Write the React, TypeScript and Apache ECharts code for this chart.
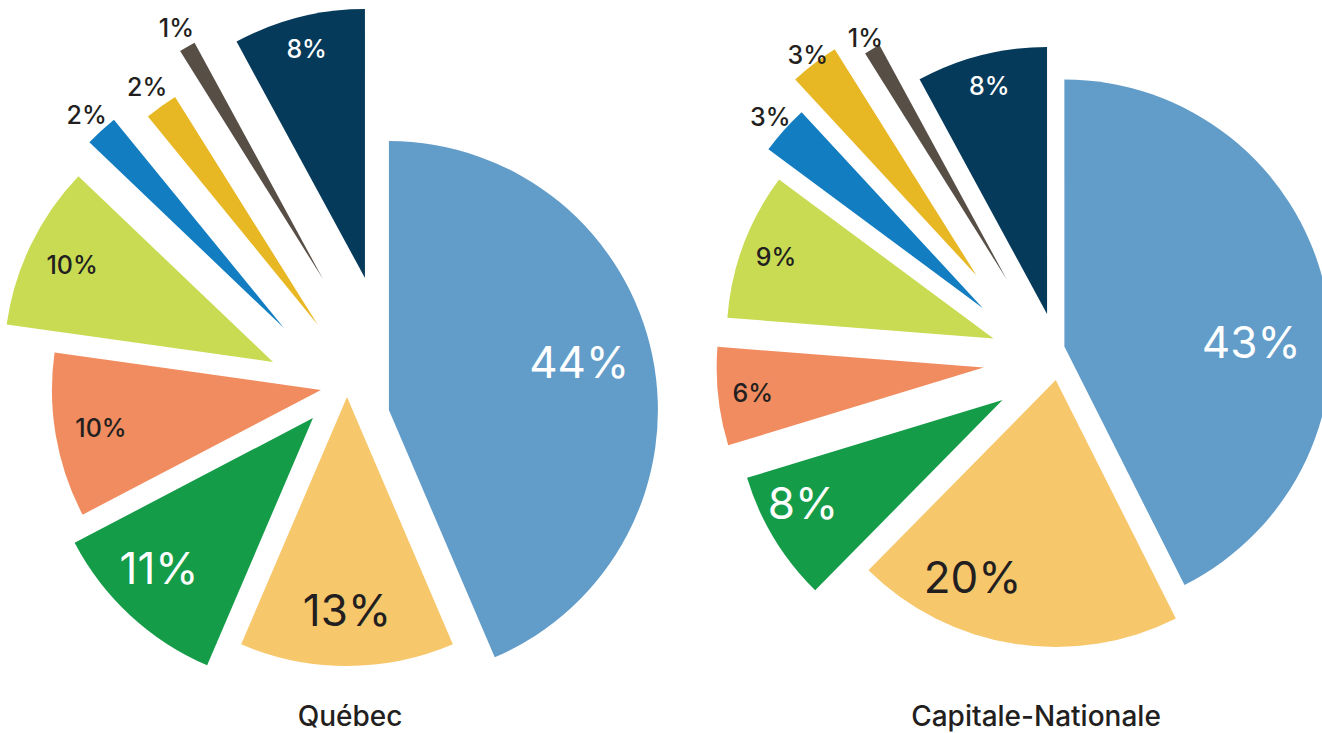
import React, { useEffect, useRef } from "react";
import * as echarts from "echarts";

// ---- Data ----
const regions = ["Québec", "Capitale-Nationale"];
const quebecValues = [44, 13, 11, 10, 10, 2, 2, 1, 8];
const capitaleValues = [43, 20, 8, 6, 9, 3, 3, 1, 8];

// ---- Styles ----
const sliceColors = [
  "#629dc9",
  "#f7c76c",
  "#159c48",
  "#f08c5f",
  "#c8db53",
  "#127dc0",
  "#e8b724",
  "#574e46",
  "#053a5a",
];
const DARK = "#231f20";
const WHITE = "#ffffff";
const FONT = "Inter, 'Noto Sans', sans-serif";

// explode offsets per slice: [radial, tangential] in px
const quebecExplode = [
  [20, 21.5], [4, 18], [53.7, 21.2], [42.9, 10.5], [96.3, -12.2],
  [102.7, -15.4], [82.7, 1.4], [119.6, 21.2], [111.5, 28.3],
];
const capitaleExplode = [
  [33.8, 6.5], [27.7, -30.4], [50.5, -30.3], [48.2, -14.4], [37.5, -3.8],
  [61.6, -1.8], [90.1, 1.6], [70.6, 14.5], [28.8, 24.9],
];
// label distance as fraction of radius, and angular nudge (degrees)
const quebecLabelR = [0.73, 0.79, 0.8, 0.83, 0.83, 1.08, 1.09, 1.08, 0.88];
const quebecLabelShift = [-2.7, 0, 2.9, 0, 0, 0, 0, 0, 0];
const capitaleLabelR = [0.7, 0.8, 0.84, 0.87, 0.87, 1.07, 1.04, 1.05, 0.88];
const capitaleLabelShift = [12, 14, 4, 0, 0, 0, 0, 0, 0];
const quebecBig = [true, true, true, false, false, false, false, false, false];
const capitaleBig = [true, true, true, false, false, false, false, false, false];
const quebecLabelColor = [WHITE, DARK, WHITE, DARK, DARK, DARK, DARK, DARK, WHITE];
const capitaleLabelColor = [WHITE, DARK, WHITE, DARK, DARK, DARK, DARK, DARK, WHITE];

function makePie(
  name: string,
  values: number[],
  explode: number[][],
  labelR: number[],
  labelShift: number[],
  big: boolean[],
  labelColor: string[],
  center: number[],
  radius: number
) {
  const total = values.reduce((a, b) => a + b, 0);
  const starts: number[] = [];
  let acc = 0;
  values.forEach((v) => {
    starts.push(acc);
    acc += v;
  });
  return {
    type: "custom",
    name,
    coordinateSystem: "none",
    data: values,
    silent: true,
    renderItem: (params: any, api: any) => {
      const i = params.dataIndex;
      const v = api.value(0);
      const a0 = (starts[i] / total) * Math.PI * 2;
      const a1 = ((starts[i] + v) / total) * Math.PI * 2;
      const mid = (a0 + a1) / 2;
      const ux = Math.sin(mid);
      const uy = -Math.cos(mid);
      const tx = Math.cos(mid);
      const ty = Math.sin(mid);
      const [r, s] = explode[i];
      const cx = center[0] + r * ux + s * tx;
      const cy = center[1] + r * uy + s * ty;
      const lr = labelR[i] * radius;
      const la = mid + (labelShift[i] * Math.PI) / 180;
      return {
        type: "group",
        children: [
          {
            type: "sector",
            shape: {
              cx,
              cy,
              r0: 0,
              r: radius,
              startAngle: a0 - Math.PI / 2,
              endAngle: a1 - Math.PI / 2,
              clockwise: true,
            },
            style: { fill: sliceColors[i] },
          },
          {
            type: "text",
            x: cx + lr * Math.sin(la),
            y: cy - lr * Math.cos(la),
            style: {
              text: v + "%",
              fill: labelColor[i],
              fontSize: big[i] ? 44 : 25,
              fontFamily: FONT,
              fontWeight: big[i] ? 400 : 500,
              align: "center",
              verticalAlign: "middle",
            },
          },
        ],
      };
    },
  };
}

export default function App() {
  const ref = useRef<HTMLDivElement>(null);
  useEffect(() => {
    if (!ref.current) return;
    const chart = echarts.init(ref.current, null, { renderer: "svg" });
    const titleStyle = {
      fill: DARK,
      fontSize: 28,
      fontWeight: 500,
      fontFamily: FONT,
      align: "center",
      verticalAlign: "middle",
    };
    chart.setOption({
      animation: false,
      backgroundColor: "#ffffff",
      graphic: [
        { type: "text", x: 350, y: 716, style: { ...titleStyle, text: regions[0] } },
        { type: "text", x: 1036, y: 716, style: { ...titleStyle, text: regions[1] } },
      ],
      series: [
        makePie(regions[0], quebecValues, quebecExplode, quebecLabelR, quebecLabelShift, quebecBig, quebecLabelColor, [365, 393], 269),
        makePie(regions[1], capitaleValues, capitaleExplode, capitaleLabelR, capitaleLabelShift, capitaleBig, capitaleLabelColor, [1030, 348], 267),
      ],
    });
    return () => chart.dispose();
  }, []);
  return (
    <div
      ref={ref}
      style={{ position: "fixed", left: 0, top: 0, width: 1322, height: 733, background: "#fff" }}
    />
  );
}
